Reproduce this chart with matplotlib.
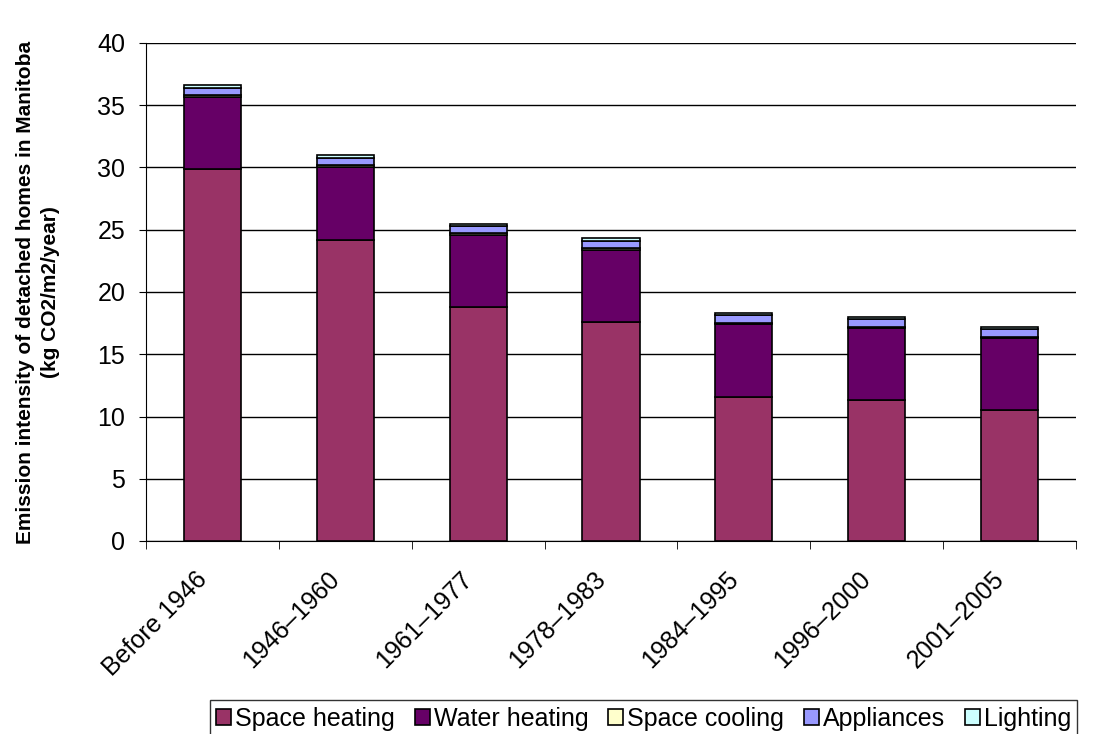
import numpy as np
import matplotlib.pyplot as plt
import matplotlib.transforms as mtransforms

periods = ["Before 1946", "1946\u20131960", "1961\u20131977", "1978\u20131983",
           "1984\u20131995", "1996\u20132000", "2001\u20132005"]
space_heating = [29.85, 24.2, 18.8, 17.6, 11.6, 11.3, 10.5]
water_heating = [5.85, 5.85, 5.8, 5.8, 5.85, 5.8, 5.8]
space_cooling = [0.15, 0.12, 0.1, 0.1, 0.1, 0.1, 0.1]
appliances = [0.55, 0.6, 0.6, 0.6, 0.6, 0.6, 0.6]
lighting = [0.25, 0.25, 0.2, 0.2, 0.2, 0.2, 0.2]

series = [
    ("Space heating", space_heating, "#993366"),
    ("Water heating", water_heating, "#660066"),
    ("Space cooling", space_cooling, "#FFFFCC"),
    ("Appliances", appliances, "#9999FF"),
    ("Lighting", lighting, "#CCFFFF"),
]

plt.rcParams['font.family'] = ['Liberation Sans', 'DejaVu Sans']

fig = plt.figure(figsize=(11.06, 7.34), dpi=100)
ax = fig.add_axes([146 / 1106, 1 - 541 / 734, 930 / 1106, 498 / 734])

x = np.arange(len(periods))
bottom = np.zeros(len(periods))
for label, vals, color in series:
    ax.bar(x, vals, width=0.43, bottom=bottom, color=color, edgecolor="black",
           linewidth=1.2, label=label, zorder=3)
    bottom += np.array(vals)

ax.set_xlim(-0.5, len(periods) - 0.5)
ax.set_ylim(0, 40)
ax.set_yticks(range(0, 41, 5))
ax.yaxis.grid(True, color="black", linewidth=1, zorder=0)
ax.tick_params(axis="y", labelsize=18, length=5, pad=10, direction="out")
ax.set_xticks(x)
ax.set_xticklabels(periods, rotation=45, ha="right", va="top",
                   rotation_mode="anchor", fontsize=18)
ax.tick_params(axis="x", which="major", length=0, pad=0)
offset = mtransforms.ScaledTranslation(-0.18, -0.26, fig.dpi_scale_trans)
for lbl in ax.get_xticklabels():
    lbl.set_transform(lbl.get_transform() + offset)
ax.set_xticks(np.arange(-0.5, len(periods), 1), minor=True)
ax.tick_params(axis="x", which="minor", length=6, direction="out")
for s in ["top", "right"]:
    ax.spines[s].set_visible(False)

ax.set_ylabel("Emission intensity of detached homes in Manitoba\n(kg CO2/m2/year)",
              fontsize=15, fontweight="bold", linespacing=1.45)
ax.yaxis.set_label_coords(-0.092, 0.5)

leg = fig.legend(loc="lower right", bbox_to_anchor=(1077 / 1106, -0.004), ncol=5,
                 fontsize=18, frameon=True, fancybox=False, edgecolor="black",
                 handlelength=0.6, handleheight=0.6, handletextpad=0.15,
                 columnspacing=0.8, borderpad=0.25, borderaxespad=0.0)
leg.get_frame().set_linewidth(1)

fig.savefig("out.png", dpi=100)
